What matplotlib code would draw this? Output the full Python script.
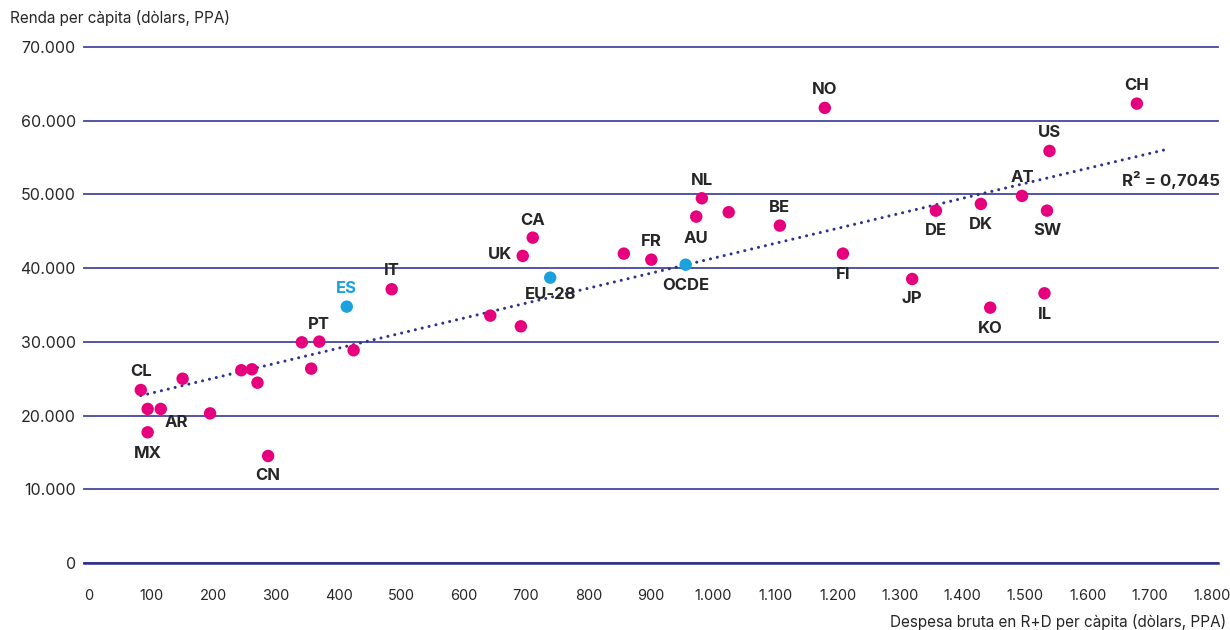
import matplotlib
matplotlib.use('Agg')
import matplotlib.pyplot as plt

plt.rcParams['font.family'] = ['Inter', 'DejaVu Sans']

# despesa en R+D per càpita (x) i renda per càpita (y)
etiquetes = ['CL', 'MX', '', 'AR', '', '', 'CN', '', '', '', '', 'PT', '', '',
             'ES', 'IT', 'CA', 'UK', 'EU-28', '', '', '', 'FR', 'NL', 'AU', '',
             'BE', 'OCDE', 'NO', 'CH', 'US', 'AT', 'DK', 'DE', 'SW', 'FI', 'JP',
             'KO', 'IL']
despesa = [83, 94, 94, 115, 150, 194, 287, 244, 261, 270, 341, 369, 356, 424,
           413, 485, 711, 695, 739, 643, 692, 857, 901, 982, 973, 1025,
           1107, 956, 1179, 1679, 1539, 1495, 1429, 1357, 1535, 1208, 1319,
           1444, 1531]
renda = [23470, 17730, 20900, 20900, 25000, 20300, 14520, 26150, 26280, 24460,
         29940, 30030, 26370, 28860, 34780, 37140, 44140, 41660, 38710, 33560,
         32110, 41970, 41150, 49480, 46990, 47590, 45770, 40470, 61740, 62320,
         55900, 49800, 48710, 47800, 47800, 41970, 38530, 34640, 36590]
agregats = ['ES', 'EU-28', 'OCDE']

# recta de regressió
tendencia_x = [83, 1723]
tendencia_y = [22700, 56040]
r2 = '0,7045'

y_ticks = [0, 10000, 20000, 30000, 40000, 50000, 60000, 70000]
x_ticks = list(range(0, 1900, 100))

ROSA = '#e6007e'
BLAU = '#1ba1dc'
LINIA = '#4646a0'
TEXT = '#262626'

# desplaçament de cada etiqueta respecte del punt, en píxels
despl = {'CL': (0, 18), 'MX': (0, -21), 'AR': (16, -14), 'CN': (0, -20),
         'PT': (0, 17), 'ES': (0, 18), 'IT': (0, 19), 'CA': (0, 17),
         'UK': (-23, 1), 'EU-28': (0, -17), 'FR': (0, 18), 'NL': (0, 18),
         'AU': (0, -22), 'BE': (0, 18), 'OCDE': (0, -21), 'NO': (0, 18),
         'CH': (0, 18), 'US': (0, 18), 'AT': (0, 18), 'DK': (0, -21),
         'DE': (0, -20), 'SW': (0, -20), 'FI': (0, -21), 'JP': (0, -20),
         'KO': (0, -21), 'IL': (0, -21)}

fig = plt.figure(figsize=(12.3, 6.3), dpi=100)
ax = fig.add_axes([84 / 1230, 1 - 563 / 630, (1218 - 84) / 1230, (563 - 47) / 630])

ax.set_xlim(-8, 1809)
ax.set_ylim(0, 70000)

ax.set_yticks(y_ticks)
ax.set_yticklabels(['0' if v == 0 else f'{v:,}'.replace(',', '.') for v in y_ticks])
ax.set_xticks(x_ticks)
ax.set_xticklabels([f'{v:,}'.replace(',', '.') for v in x_ticks])
ax.tick_params(axis='both', length=0, colors=TEXT)
ax.tick_params(axis='y', pad=6, labelsize=11.5)
ax.tick_params(axis='x', pad=19, labelsize=10.5)

for s in ['top', 'right', 'left']:
    ax.spines[s].set_visible(False)
ax.spines['bottom'].set_color('#2e2e8a')
ax.spines['bottom'].set_linewidth(1.8)

ax.yaxis.grid(True, color=LINIA, linewidth=1.3)
for gl in ax.get_ygridlines():
    gl.set_clip_on(False)
ax.set_axisbelow(True)

# línia de tendència
ax.plot(tendencia_x, tendencia_y, color='#2e3192', linewidth=2.2,
        linestyle=(0, (0.01, 2.3)), dash_capstyle='round', zorder=2)

colors = [BLAU if e in agregats else ROSA for e in etiquetes]
ax.scatter(despesa, renda, s=80, c=colors, edgecolors='none', zorder=3, clip_on=False)

for e, xv, yv in zip(etiquetes, despesa, renda):
    if not e:
        continue
    dx, dy = despl[e]
    ax.annotate(e, (xv, yv), xytext=(dx, dy), textcoords='offset pixels',
                ha='center', va='center', fontsize=12, fontweight='bold',
                color=BLAU if e == 'ES' else TEXT, zorder=4)

ax.text(1812, 51970, 'R² = ' + r2, ha='right', va='center', fontsize=12,
        fontweight='bold', color=TEXT)

fig.text(10 / 1230, 1 - 18 / 630, 'Renda per càpita (dòlars, PPA)',
         ha='left', va='center', fontsize=11, color=TEXT)
fig.text(1226 / 1230, 1 - 622 / 630, 'Despesa bruta en R+D per càpita (dòlars, PPA)',
         ha='right', va='center', fontsize=11, color=TEXT)

plt.savefig('out.png', dpi=100)
